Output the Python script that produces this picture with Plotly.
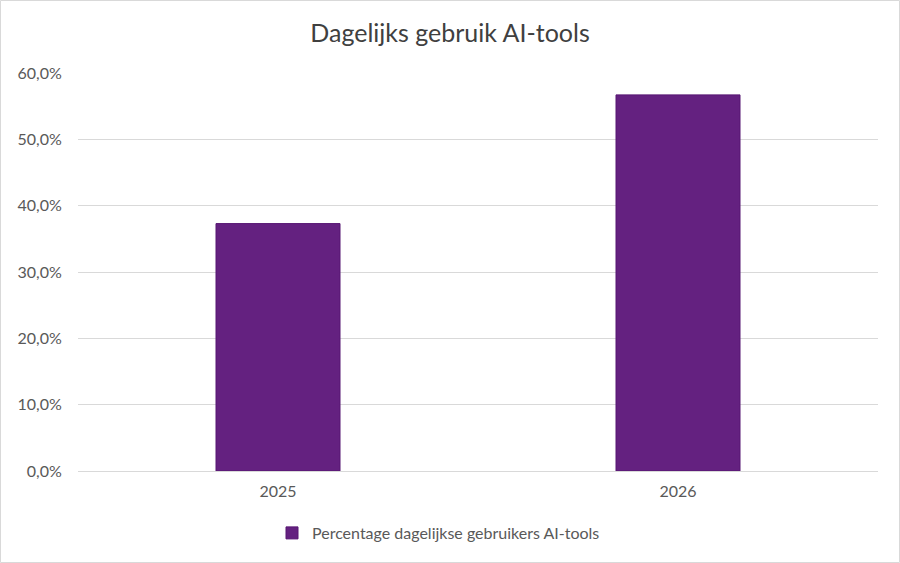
import plotly.graph_objects as go

categories = ["2025", "2026"]
values = [37.3, 56.7]
series_name = "Percentage dagelijkse gebruikers AI-tools"
title_text = "Dagelijks gebruik AI-tools"

W, H = 900, 563
ml, mr, mt, mb = 78, 22, 73, 92
pw, ph = W - ml - mr, H - mt - mb

fig = go.Figure()
fig.add_trace(go.Bar(
    x=categories, y=values, name=series_name,
    marker=dict(color="#642180", line=dict(color="#571673", width=1)),
    width=0.31,
))

font_family = "Lato, 'Open Sans', sans-serif"
fig.update_layout(
    width=W, height=H,
    margin=dict(l=ml, r=mr, t=mt, b=mb),
    paper_bgcolor="white", plot_bgcolor="white",
    separators=",.",
    font=dict(family=font_family, color="#595959", size=16),
    title=dict(text=title_text, x=0.5, xanchor="center", y=1 - 33 / H, yanchor="middle",
               font=dict(size=25, color="#404040", family=font_family)),
    showlegend=True,
    legend=dict(orientation="h", x=(272 - ml) / pw, xanchor="left", y=-62 / ph, yanchor="middle",
                font=dict(size=16, color="#595959"), itemwidth=30),
    xaxis=dict(showgrid=False, showline=True, linecolor="#d9d9d9", linewidth=1,
               ticks="outside", ticklen=6, tickcolor="rgba(0,0,0,0)",
               tickfont=dict(size=16, color="#595959")),
    yaxis=dict(range=[0, 60], dtick=10, tickformat=".1f", ticksuffix="%",
               showgrid=True, gridcolor="#d9d9d9", gridwidth=1, zeroline=False,
               showline=False, ticks="outside", ticklen=12, tickcolor="rgba(0,0,0,0)",
               tickfont=dict(size=16, color="#595959")),
)

fig.add_shape(type="rect", xref="paper", yref="paper",
              x0=(0.5 - ml) / pw, x1=(W - 0.5 - ml) / pw,
              y0=-(mb - 0.5) / ph, y1=(ph + mt - 0.5) / ph,
              line=dict(color="#d9d9d9", width=1), layer="below")

fig.write_html("out.html", config={"displayModeBar": False},
               post_script="document.body.style.margin='0';document.body.style.padding='0';")
